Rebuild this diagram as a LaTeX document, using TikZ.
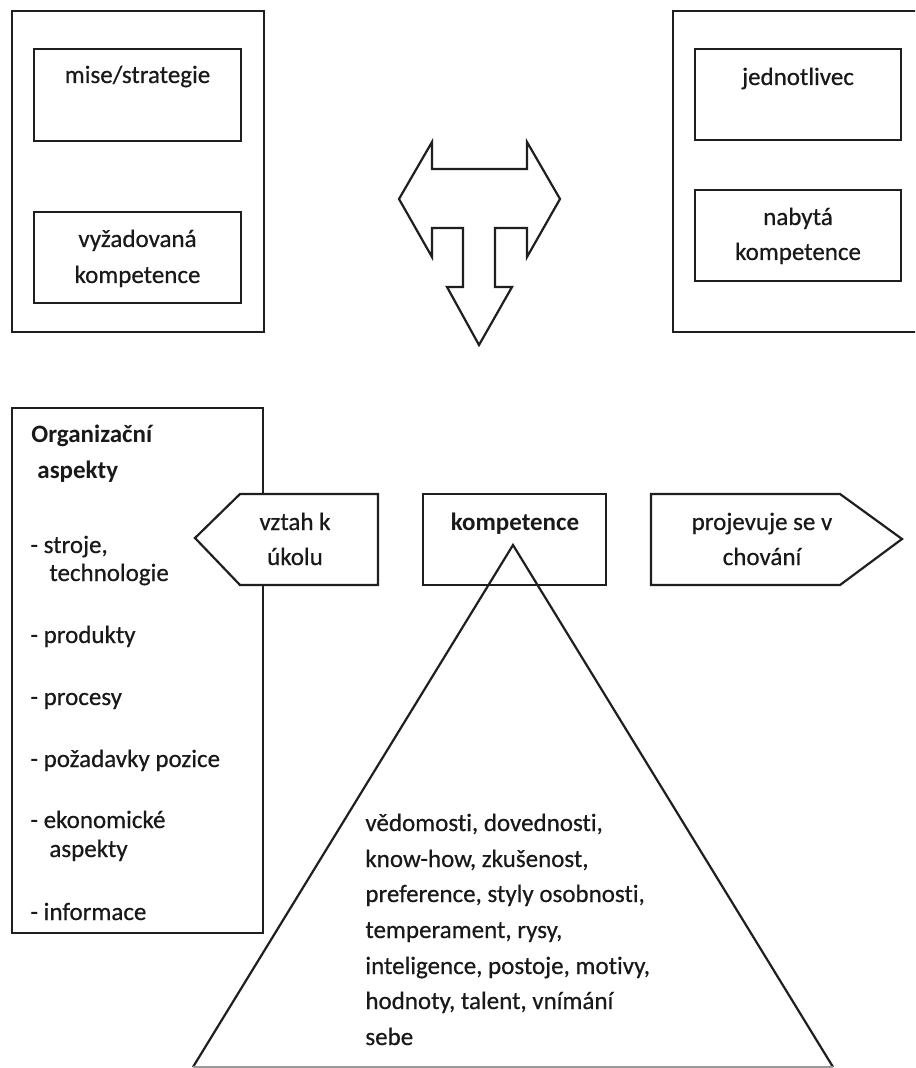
\documentclass[tikz,border=0pt]{standalone}
\usepackage{fontspec}
\setmainfont{Carlito}[Ligatures=NoCommon, UprightFeatures={FakeBold=0.5}]
\begin{document}
\begin{tikzpicture}[x=0.5pt,y=-0.5pt]
\tikzset{
  ln/.style={draw=black!88, line width=1.1pt, line join=miter},
  txt/.style={inner sep=0pt, anchor=base, text=black!90, font=\fontsize{12.5}{15}\selectfont},
  txtb/.style={txt, font=\fontsize{12.5}{15}\selectfont\bfseries},
  txtl/.style={txt, anchor=base west},
  txtlb/.style={txtb, anchor=base west}
}
\useasboundingbox (0,0) rectangle (915,1068);
\clip (0,0) rectangle (915,1068);
\fill[white] (0,0) rectangle (915,1068);

% top left group
\coordinate (tlA) at (12,11);  \coordinate (tlB) at (264,332);
\draw[ln] (tlA) rectangle (tlB);
\draw[ln] (34,49) rectangle (241,141);
\draw[ln] (34,212) rectangle (241,303);
\node[txt] (mise) at (137.5,83) {mise/strategie};
\node[txt] (vyz) at (137.5,247) {vyžadovaná};
\node[txt] (kompL) at (137.5,283) {kompetence};

% top right group
\draw[ln] (673,11) rectangle (925,332);
\draw[ln] (695,49) rectangle (901,140);
\draw[ln] (695,190) rectangle (901,281);
\node[txt] (jedn) at (798,85) {jednotlivec};
\node[txt] (naby) at (798,225) {nabytá};
\node[txt] (kompR) at (798,260) {kompetence};

% T-shaped arrow
\draw[ln] (399,199) -- (432,142) -- (432,169) -- (527,169) -- (527,142) -- (560,199)
  -- (527,257) -- (527,228) -- (495,228) -- (495,287) -- (512,287) -- (479,345)
  -- (447,287) -- (463,287) -- (463,228) -- (432,228) -- (432,257) -- cycle;

% Organizacni aspekty box
\draw[ln] (12,408) rectangle (263,933);
\node[txtlb] (org1) at (31,443) {Organizační};
\node[txtlb] (org2) at (37,478) {aspekty};
\node[txtl] (i1a) at (30,553) {- stroje,};
\node[txtl] (i1b) at (49,581) {technologie};
\node[txtl] (i2) at (30,643) {- produkty};
\node[txtl] (i3) at (30,705) {- procesy};
\node[txtl] (i4) at (30,767) {- požadavky pozice};
\node[txtl] (i5a) at (30,828) {- ekonomické};
\node[txtl] (i5b) at (49,857) {aspekty};
\node[txtl] (i6) at (30,920) {- informace};

% vztah k ukolu arrow
\draw[ln, fill=white] (195,538) -- (240,494) -- (378,494) -- (378,585) -- (240,585) -- cycle;
\node[txt] (vz1) at (295,530) {vztah k};
\node[txt] (vz2) at (295,565) {úkolu};

% kompetence box
\draw[ln] (423,494) rectangle (606,585);
\node[txtb] (komp) at (515,530) {kompetence};

% projevuje arrow
\draw[ln] (651,494) -- (840,494) -- (902,539) -- (840,585) -- (651,585) -- cycle;
\node[txt] (pr1) at (762,530) {projevuje se v};
\node[txt] (pr2) at (762,565) {chování};

% triangle
\coordinate (apex) at (513,545);
\coordinate (bl) at (193,1067);
\coordinate (br) at (833,1067);
\draw[ln] (bl) -- (apex) -- (br);
\draw[draw=black!40, line width=1pt] (bl) -- (br);

\node[txtl] (t1) at (365,831) {vědomosti, dovednosti,};
\node[txtl] (t2) at (365,867) {know-how, zkušenost,};
\node[txtl] (t3) at (365,902) {preference, styly osobnosti,};
\node[txtl] (t4) at (365,938) {temperament, rysy,};
\node[txtl] (t5) at (365,974) {inteligence, postoje, motivy,};
\node[txtl] (t6) at (365,1009) {hodnoty, talent, vnímání};
\node[txtl] (t7) at (365,1045) {sebe};
\end{tikzpicture}
\end{document}
